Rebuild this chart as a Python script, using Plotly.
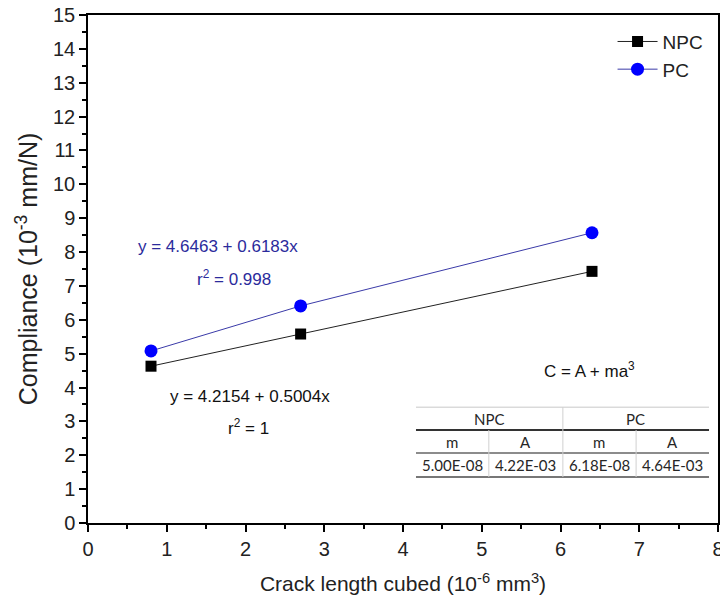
import plotly.graph_objects as go

# Data
x_vals = [0.8, 2.7, 6.4]
npc_vals = [4.63, 5.58, 7.43]
pc_vals = [5.08, 6.41, 8.57]

x_ticks = list(range(0, 9))
y_ticks = list(range(0, 16))

table_header = ["NPC", "PC"]
table_sub = ["m", "A", "m", "A"]
table_values = ["5.00E-08", "4.22E-03", "6.18E-08", "4.64E-03"]

FONT = "Liberation Sans, Arial, sans-serif"
TFONT = "Lato, Open Sans, sans-serif"

fig = go.Figure()
fig.add_trace(go.Scatter(
    x=x_vals, y=npc_vals, name="NPC", mode="lines+markers",
    line=dict(color="#222222", width=1),
    marker=dict(symbol="square", size=11, color="black"),
))
fig.add_trace(go.Scatter(
    x=x_vals, y=pc_vals, name="PC", mode="lines+markers",
    line=dict(color="#3a3aa8", width=1),
    marker=dict(symbol="circle", size=13, color="#0000ff"),
))

annotations = [
    dict(x=1.65, y=8.15, text="y = 4.6463 + 0.6183x", color="#2b2b9c"),
    dict(x=1.86, y=7.23, text="r<sup>2</sup> = 0.998", color="#2b2b9c"),
    dict(x=2.06, y=3.74, text="y = 4.2154 + 0.5004x", color="#111111"),
    dict(x=2.04, y=2.83, text="r<sup>2</sup> = 1", color="#111111"),
    dict(x=6.37, y=4.52, text="C = A + ma<sup>3</sup>", color="#111111"),
]
ann_list = []
for a in annotations:
    ann_list.append(dict(x=a["x"], y=a["y"], xref="x", yref="y", text=a["text"],
                         showarrow=False, font=dict(family=FONT, size=17, color=a["color"])))

# Table (drawn with shapes and text)
tx = [4.165, 5.09, 6.03, 6.96, 7.886]
ty = [3.42, 2.746, 2.067, 1.358]
shapes = []
shapes.append(dict(type="rect", xref="x", yref="y", x0=tx[0], x1=tx[4], y0=ty[3], y1=ty[0],
                   fillcolor="white", line=dict(width=0), layer="below"))
shapes.append(dict(type="line", xref="x", yref="y", x0=tx[0], x1=tx[4], y0=ty[0], y1=ty[0],
                   line=dict(color="#c8c8c8", width=1)))
shapes.append(dict(type="line", xref="x", yref="y", x0=tx[0], x1=tx[4], y0=ty[1], y1=ty[1],
                   line=dict(color="#333333", width=2)))
shapes.append(dict(type="line", xref="x", yref="y", x0=tx[0], x1=tx[4], y0=ty[2], y1=ty[2],
                   line=dict(color="#666666", width=1.5)))
shapes.append(dict(type="line", xref="x", yref="y", x0=tx[0], x1=tx[4], y0=ty[3], y1=ty[3],
                   line=dict(color="#777777", width=2)))
shapes.append(dict(type="line", xref="x", yref="y", x0=tx[2], x1=tx[2], y0=ty[3], y1=ty[0],
                   line=dict(color="#d0d0d0", width=1)))
for xi in (tx[1], tx[3]):
    shapes.append(dict(type="line", xref="x", yref="y", x0=xi, x1=xi, y0=ty[3], y1=ty[1],
                       line=dict(color="#d0d0d0", width=1)))

tfont = dict(family=TFONT, size=15, color="#262626")
for i, h in enumerate(table_header):
    ann_list.append(dict(x=(tx[2 * i] + tx[2 * i + 2]) / 2, y=(ty[0] + ty[1]) / 2, xref="x", yref="y",
                         text=h, showarrow=False, font=tfont))
for i, s in enumerate(table_sub):
    ann_list.append(dict(x=(tx[i] + tx[i + 1]) / 2, y=(ty[1] + ty[2]) / 2, xref="x", yref="y",
                         text=s, showarrow=False, font=tfont))
for i, s in enumerate(table_values):
    ann_list.append(dict(x=(tx[i] + tx[i + 1]) / 2, y=(ty[2] + ty[3]) / 2, xref="x", yref="y",
                         text=s, showarrow=False, font=tfont))

axis_common = dict(
    showgrid=False, zeroline=False, showline=True, linecolor="black", linewidth=1.5,
    mirror=True, ticks="outside", ticklen=7, tickwidth=1.5, tickcolor="black",
    tickfont=dict(family=FONT, size=20, color="#222222"),
    ticklabeloverflow="allow", automargin=False,
)

fig.update_layout(
    width=720, height=610,
    margin=dict(l=88, r=2, t=15, b=87),
    paper_bgcolor="white", plot_bgcolor="white",
    font=dict(family=FONT),
    xaxis=dict(range=[0, 8], tickvals=x_ticks,
               minor=dict(dtick=0.5, ticks="outside", ticklen=4, tickcolor="black", tickwidth=1.5),
               title=dict(text="Crack length cubed (10<sup>-6</sup> mm<sup>3</sup>)",
                          font=dict(family=FONT, size=21, color="#222222"), standoff=18),
               **axis_common),
    yaxis=dict(range=[0, 15], tickvals=y_ticks,
               minor=dict(dtick=0.5, ticks="outside", ticklen=4, tickcolor="black", tickwidth=1.5),
               title=dict(text="Compliance (10<sup>-3</sup> mm/N)",
                          font=dict(family=FONT, size=25, color="#222222"), standoff=8),
               **axis_common),
    legend=dict(x=0.985, y=0.985, xanchor="right", yanchor="top",
                font=dict(family=FONT, size=19, color="#222222"),
                bgcolor="rgba(0,0,0,0)", tracegroupgap=0, itemwidth=40),
    showlegend=True,
    annotations=ann_list,
    shapes=shapes,
)

fig.write_html("out.html")
